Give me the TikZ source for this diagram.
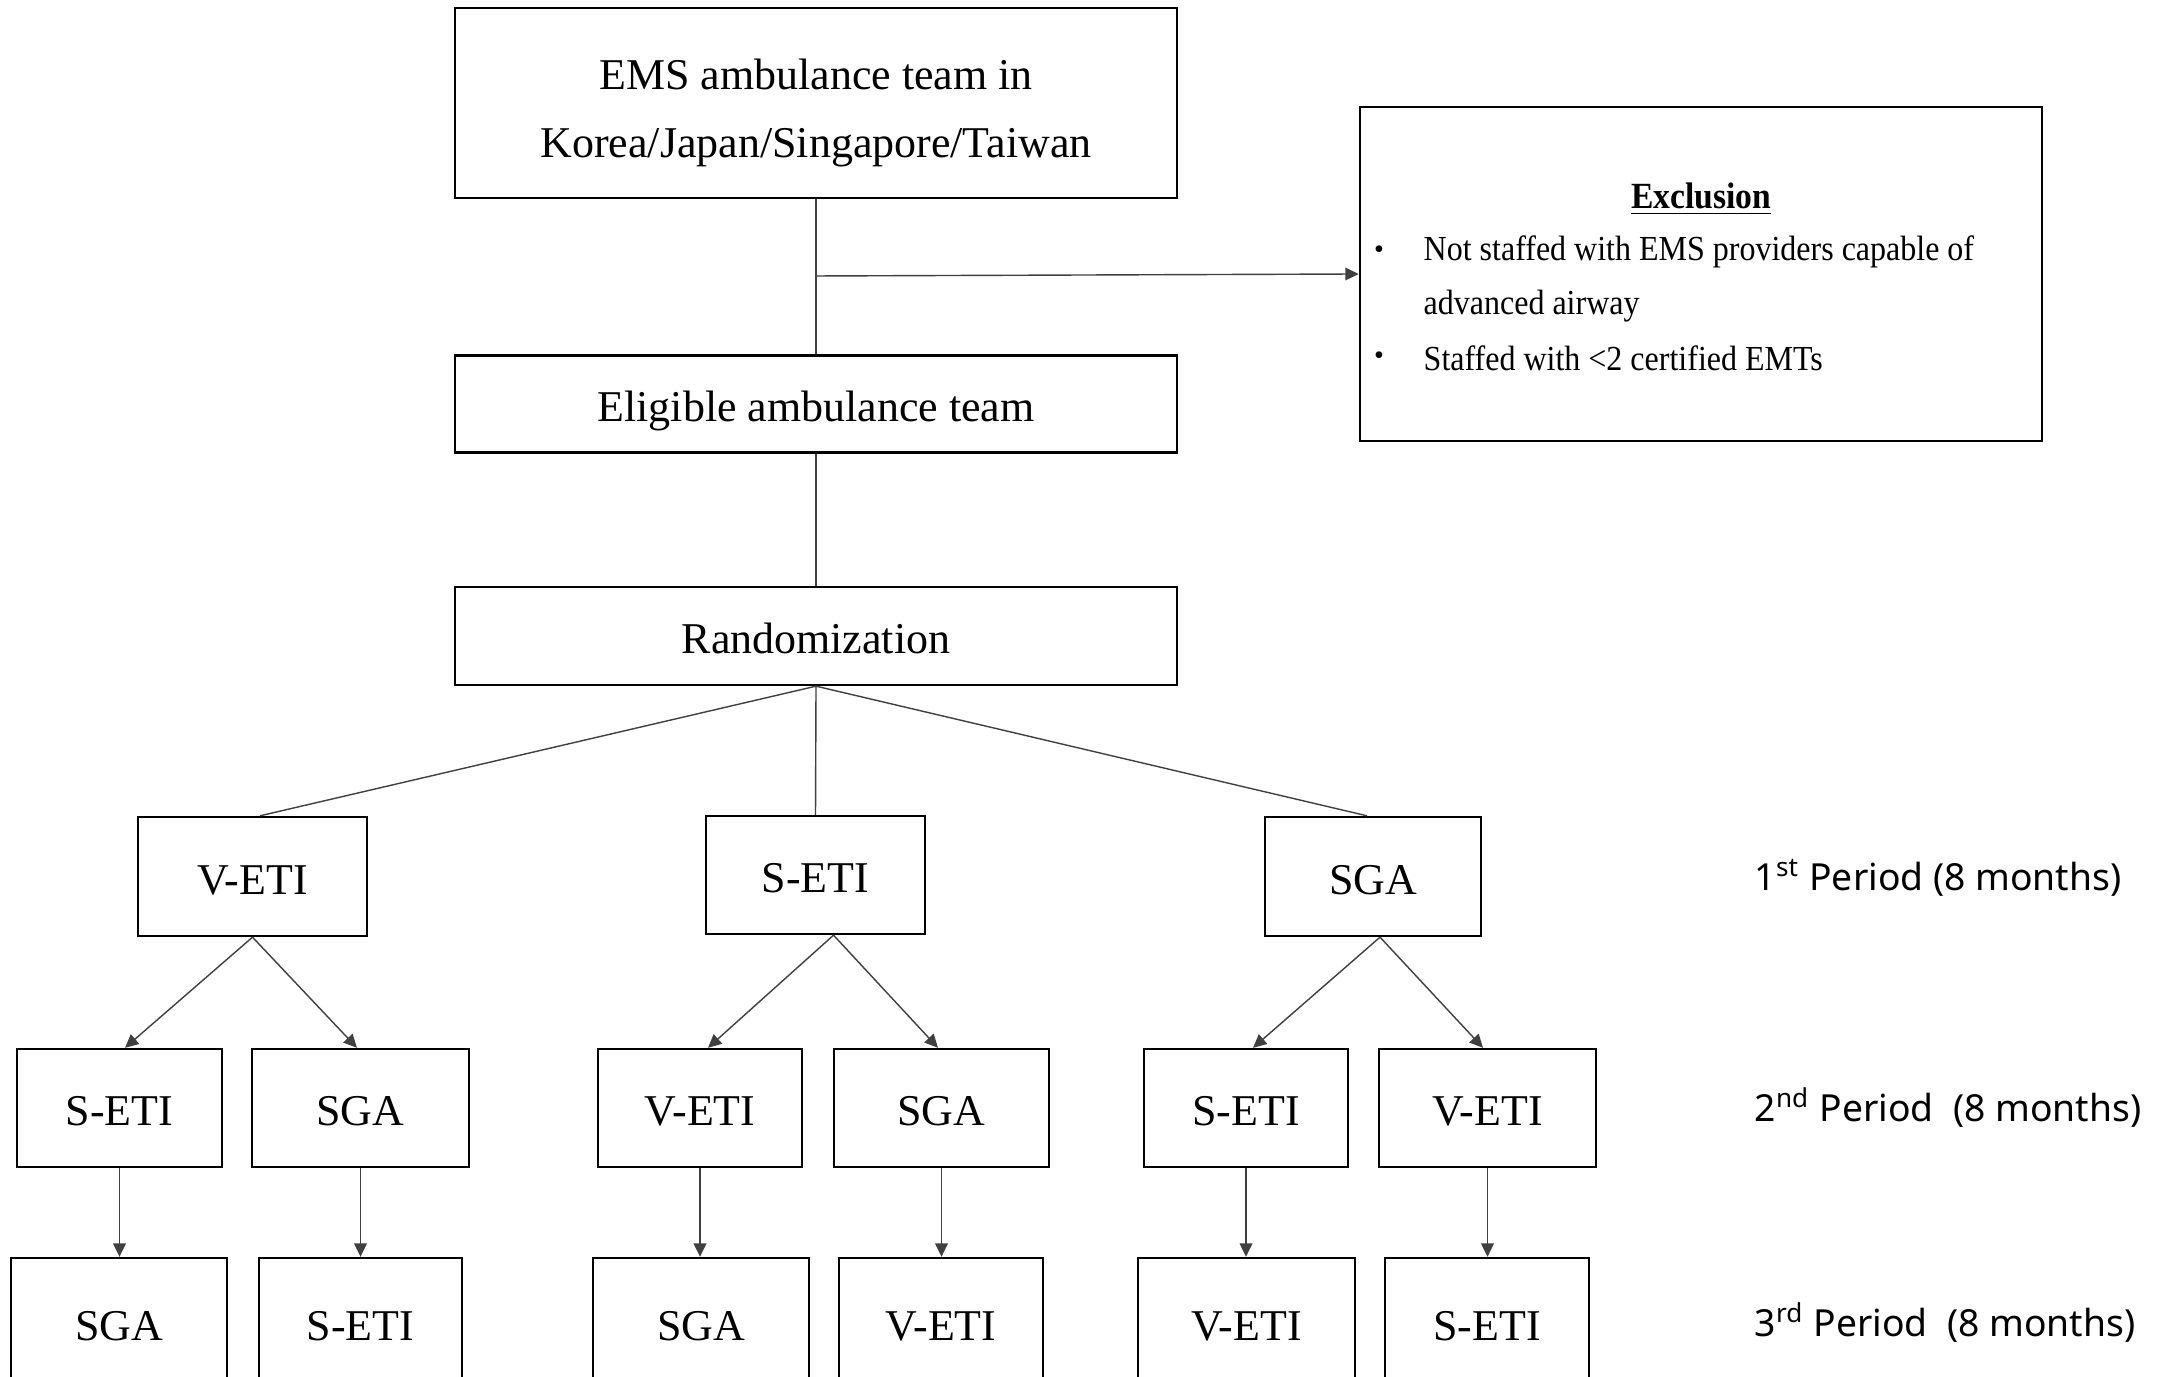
\documentclass[tikz,border=0pt]{standalone}
\usepackage{fontspec}
\setmainfont{Liberation Serif}
\newfontfamily\periodfont{Noto Sans}
\newfontfamily\exclfont[FakeStretch=0.91]{Liberation Serif}
\usetikzlibrary{arrows.meta}
\begin{document}
\begin{tikzpicture}[x=0.01cm,y=-0.01cm,
  txt/.style={inner sep=0pt,font=\fontsize{12.5}{15}\selectfont,text height=1.0em,text depth=0em},
  box/.style={txt,draw=black,line width=0.65pt,rectangle,align=center},
  conn/.style={draw=black!75,line width=0.4pt},
  arr/.style={conn,-{Triangle[length=3.8pt,width=3.6pt]}},
  period/.style={anchor=west,inner sep=0pt,font=\periodfont\fontsize{10.6}{13}\selectfont},
  excl/.style={anchor=west,inner sep=0pt,font=\exclfont\fontsize{10}{12}\selectfont}]
\clip (0,0) rectangle (2161,1377);
\fill[white] (0,0) rectangle (2161,1377);
% top column
\node[box,minimum width=7.21cm,minimum height=1.90cm] (top) at (816,103) {};
\node[txt] (t1) at (816,72) {EMS ambulance team in};
\node[txt] (t2) at (816,140) {Korea/Japan/Singapore/Taiwan};
\node[box,minimum width=7.21cm,minimum height=0.97cm] (elig) at (816,404) {Eligible ambulance team};
\node[box,minimum width=7.21cm,minimum height=0.98cm] (rand) at (816,636) {Randomization};
% exclusion
\node[box,minimum width=6.82cm,minimum height=3.34cm] (excl) at (1701,274) {};
\node[inner sep=0pt,font=\exclfont\fontsize{10.5}{12}\selectfont\bfseries] (exT) at (1701,199) {\underline{Exclusion}};
\node[inner sep=0pt] (b1) at (1379,252) {\fontsize{8}{10}\selectfont\textbullet};
\node[inner sep=0pt] (b2) at (1379,358) {\fontsize{8}{10}\selectfont\textbullet};
\node[excl] (e1) at (1423,252) {Not staffed with EMS providers capable of};
\node[excl] (e2) at (1423,306) {advanced airway};
\node[excl] (e3) at (1423,358) {Staffed with {<}2 certified EMTs};
% level 1
\node[box,minimum width=2.29cm,minimum height=1.19cm] (v1) at (252.5,876.5) {V-ETI};
\node[box,minimum width=2.19cm,minimum height=1.18cm] (s1) at (815.5,875) {S-ETI};
\node[box,minimum width=2.16cm,minimum height=1.19cm] (g1) at (1373,876.5) {SGA};
% level 2
\node[box,minimum width=2.05cm,minimum height=1.18cm] (a2) at (119.5,1108) {S-ETI};
\node[box,minimum width=2.17cm,minimum height=1.18cm] (b2x) at (360.5,1108) {SGA};
\node[box,minimum width=2.04cm,minimum height=1.18cm] (c2) at (700,1108) {V-ETI};
\node[box,minimum width=2.15cm,minimum height=1.18cm] (d2) at (941.5,1108) {SGA};
\node[box,minimum width=2.04cm,minimum height=1.18cm] (e2x) at (1246,1108) {S-ETI};
\node[box,minimum width=2.17cm,minimum height=1.18cm] (f2) at (1487.5,1108) {V-ETI};
% level 3
\node[box,minimum width=2.16cm,minimum height=1.30cm] (a3) at (119,1323) {SGA};
\node[box,minimum width=2.03cm,minimum height=1.30cm] (b3) at (360.5,1323) {S-ETI};
\node[box,minimum width=2.16cm,minimum height=1.30cm] (c3) at (701,1323) {SGA};
\node[box,minimum width=2.04cm,minimum height=1.30cm] (d3) at (941,1323) {V-ETI};
\node[box,minimum width=2.17cm,minimum height=1.30cm] (e3x) at (1246.5,1323) {V-ETI};
\node[box,minimum width=2.04cm,minimum height=1.30cm] (f3) at (1487,1323) {S-ETI};
% period labels
\node[period] (p1) at (1754,878) {1\textsuperscript{st} Period (8 months)};
\node[period] (p2) at (1754,1108) {2\textsuperscript{nd} Period \ (8 months)};
\node[period] (p3) at (1754,1323) {3\textsuperscript{rd} Period \ (8 months)};
% connectors
\coordinate (br) at (816,276);
\draw[conn] (top.south) -- (elig.north);
\draw[arr] (br) -- (excl.west);
\draw[conn] (elig.south) -- (rand.north);
\draw[conn] (rand.south) -- ([xshift=0.075cm]v1.north);
\draw[conn] (rand.south) -- (s1.north);
\draw[conn] (rand.south) -- ([xshift=-0.06cm]g1.north);
\draw[arr] (v1.south) -- ([xshift=0.055cm]a2.north);
\draw[arr] (v1.south) -- ([xshift=-0.035cm]b2x.north);
\draw[arr] ([xshift=0.18cm]s1.south) -- ([xshift=0.08cm]c2.north);
\draw[arr] ([xshift=0.18cm]s1.south) -- ([xshift=-0.035cm]d2.north);
\draw[arr] ([xshift=0.07cm]g1.south) -- ([xshift=0.07cm]e2x.north);
\draw[arr] ([xshift=0.07cm]g1.south) -- ([xshift=-0.045cm]f2.north);
\draw[arr] (a2.south) -- (a2.south |- a3.north);
\draw[arr] (b2x.south) -- (b2x.south |- b3.north);
\draw[arr] (c2.south) -- (c2.south |- c3.north);
\draw[arr] (d2.south) -- (d2.south |- d3.north);
\draw[arr] (e2x.south) -- (e2x.south |- e3x.north);
\draw[arr] (f2.south) -- (f2.south |- f3.north);
\end{tikzpicture}
\end{document}
